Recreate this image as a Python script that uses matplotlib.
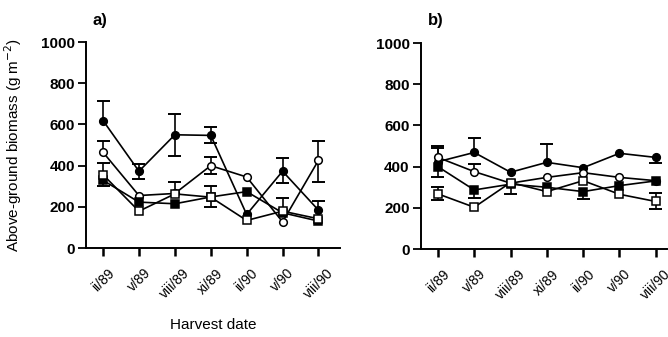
import numpy as np
import matplotlib
matplotlib.use('Agg')
import matplotlib.pyplot as plt

plt.rcParams['font.family'] = ['Liberation Sans', 'DejaVu Sans']

# harvest dates
dates = ['ii/89', 'v/89', 'viii/89', 'xi/89', 'ii/90', 'v/90', 'viii/90']

# panel a) values (g m-2)
a_fcirc = [619, 373, 550, 547, 163, 373, 184]
a_ocirc = [465, 255, 265, 400, 345, 127, 426]
a_fsq = [329, 223, 215, 248, 274, 171, 131]
a_osq = [356, 179, 263, 247, 134, 179, 142]
# error bars (lower, upper), 0 = not drawn
a_fcirc_lo = [0, 40, 105, 35, 0, 55, 0]
a_fcirc_up = [95, 37, 100, 40, 0, 65, 43]
a_ocirc_lo = [0, 0, 0, 40, 0, 0, 105]
a_ocirc_up = [55, 0, 0, 40, 0, 0, 95]
a_fsq_lo = [30, 0, 0, 0, 0, 0, 0]
a_fsq_up = [0, 0, 0, 0, 0, 0, 0]
a_osq_lo = [0, 0, 0, 47, 0, 0, 0]
a_osq_up = [55, 0, 60, 55, 0, 65, 0]

# panel b) values
b_fcirc = [424, 469, 373, 421, 395, 465, 445]
b_ocirc = [445, 376, 320, 348, 371, 348, 332]
b_fsq = [400, 287, 315, 300, 279, 308, 331]
b_osq = [268, 203, 323, 279, 332, 266, 231]
b_fcirc_lo = [0, 0, 0, 0, 0, 0, 25]
b_fcirc_up = [76, 71, 0, 89, 0, 0, 0]
b_ocirc_lo = [0, 0, 0, 0, 0, 0, 0]
b_ocirc_up = [44, 37, 0, 0, 0, 0, 0]
b_fsq_lo = [50, 40, 0, 0, 35, 0, 0]
b_fsq_up = [0, 0, 0, 0, 0, 0, 0]
b_osq_lo = [29, 0, 55, 0, 0, 0, 37]
b_osq_up = [35, 0, 0, 0, 0, 0, 43]

fig = plt.figure(figsize=(6.68, 3.37), dpi=100)
axa = fig.add_axes([0.129, 0.264, 0.38, 0.611])
axb = fig.add_axes([0.630, 0.261, 0.368, 0.611])

x = np.arange(len(dates))


def draw(ax, series, xmax):
    for vals, lo, up, mk, fc in series:
        vals = np.array(vals, float)
        for err, sign in [(np.array(lo), -1), (np.array(up), 1)]:
            m = err > 0
            if m.any():
                ax.vlines(x[m], vals[m], vals[m] + sign * err[m], color='black',
                          lw=1.2, zorder=2, clip_on=False)
                ax.hlines(vals[m] + sign * err[m], x[m] - 0.18, x[m] + 0.18,
                          color='black', lw=1.4, zorder=2, clip_on=False)
        ax.plot(x, vals, color='black', marker=mk, markerfacecolor=fc,
                markeredgecolor='black', markersize=5.5, markeredgewidth=1.1,
                lw=1.2, clip_on=False, zorder=3)
    ax.set_xlim(-0.47, xmax)
    ax.set_ylim(0, 1000)
    ax.set_yticks([0, 200, 400, 600, 800, 1000])
    ax.set_xticks(x)
    ax.set_xticklabels(dates, rotation=45, ha='center', fontsize=10)
    for s in ['top', 'right']:
        ax.spines[s].set_visible(False)
    for s in ['left', 'bottom']:
        ax.spines[s].set_linewidth(1.4)
    ax.tick_params(axis='y', length=6, width=1.3, labelsize=11, pad=2)
    ax.tick_params(axis='x', length=6, width=1.8, pad=7)
    for lab in ax.get_yticklabels():
        lab.set_fontweight('bold')


draw(axa, [(a_fcirc, a_fcirc_lo, a_fcirc_up, 'o', 'black'),
           (a_ocirc, a_ocirc_lo, a_ocirc_up, 'o', 'white'),
           (a_fsq, a_fsq_lo, a_fsq_up, 's', 'black'),
           (a_osq, a_osq_lo, a_osq_up, 's', 'white')], 6.6)
draw(axb, [(b_fcirc, b_fcirc_lo, b_fcirc_up, 'o', 'black'),
           (b_ocirc, b_ocirc_lo, b_ocirc_up, 'o', 'white'),
           (b_fsq, b_fsq_lo, b_fsq_up, 's', 'black'),
           (b_osq, b_osq_lo, b_osq_up, 's', 'white')], 6.3)

axa.set_ylabel('Above-ground biomass (g m$^{-2}$)', fontsize=11, labelpad=12)
axa.set_xlabel('Harvest date', fontsize=11, labelpad=12)
fig.text(0.139, 0.925, 'a)', fontsize=12, fontweight='bold')
fig.text(0.641, 0.925, 'b)', fontsize=12, fontweight='bold')

fig.savefig('out.png', dpi=100)
